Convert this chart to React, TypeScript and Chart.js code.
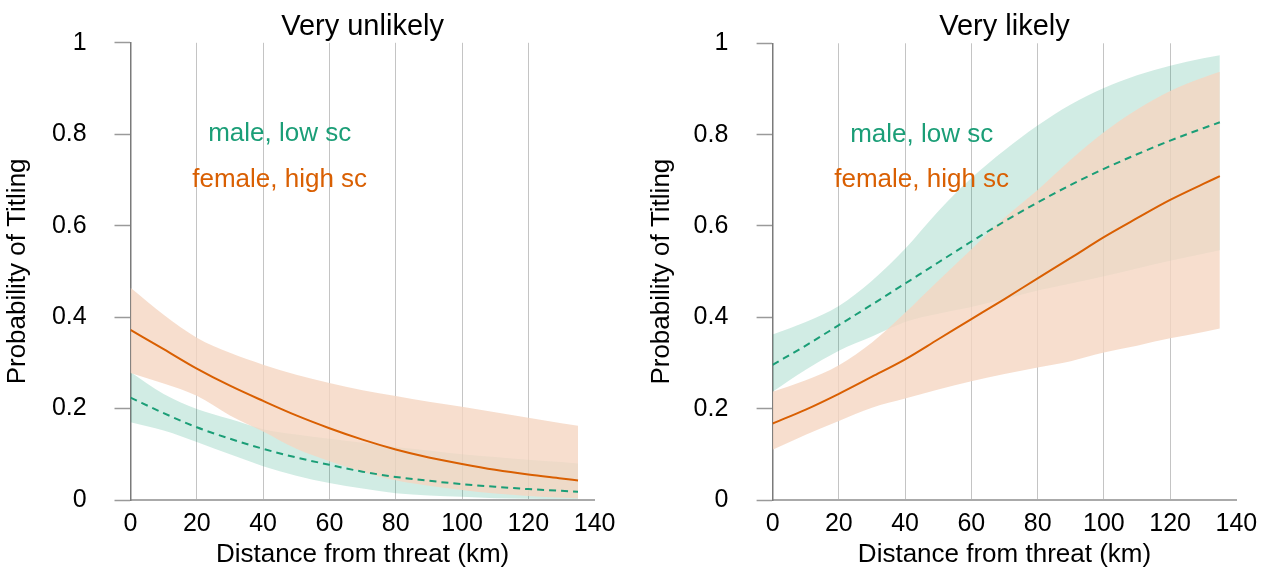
import React, { useEffect, useRef } from "react";
import { Chart, registerables } from "chart.js";

Chart.register(...registerables);

// ---------- data ----------
const distanceKm = [0, 10, 20, 30, 40, 50, 60, 70, 80, 90, 100, 110, 120, 130, 135];
const xTickValues = [0, 20, 40, 60, 80, 100, 120, 140];
const yTickValues = [0, 0.2, 0.4, 0.6, 0.8, 1];
const panelTitles = ["Very unlikely", "Very likely"];
const xAxisTitle = "Distance from threat (km)";
const yAxisTitle = "Probability of Titling";
const groupLabels = ["male, low sc", "female, high sc"];
const groupLabelX = [45, 45];
const groupLabelY = [0.8, 0.7];

// Very unlikely
const maleMeanUnlikely = [0.224, 0.19, 0.159, 0.134, 0.112, 0.093, 0.077, 0.062, 0.0505, 0.042, 0.0347, 0.029, 0.0238, 0.02, 0.018];
const maleUpperUnlikely = [0.28, 0.232, 0.199, 0.177, 0.155, 0.143, 0.134, 0.125, 0.116, 0.108, 0.1, 0.094, 0.088, 0.083, 0.08];
const maleLowerUnlikely = [0.17, 0.152, 0.127, 0.1, 0.074, 0.053, 0.037, 0.025, 0.015, 0.01, 0.007, 0.004, 0.003, 0.002, 0.002];
const femaleMeanUnlikely = [0.372, 0.33, 0.2875, 0.25, 0.2167, 0.185, 0.157, 0.132, 0.1105, 0.093, 0.0787, 0.066, 0.0556, 0.047, 0.0426];
const femaleUpperUnlikely = [0.464, 0.405, 0.355, 0.322, 0.296, 0.274, 0.256, 0.24, 0.2275, 0.215, 0.2037, 0.192, 0.18, 0.168, 0.1625];
const femaleLowerUnlikely = [0.278, 0.255, 0.228, 0.185, 0.15, 0.112, 0.085, 0.062, 0.043, 0.031, 0.022, 0.014, 0.009, 0.005, 0.004];

// Very likely
const maleMeanLikely = [0.296, 0.338, 0.383, 0.428, 0.474, 0.52, 0.566, 0.61, 0.6515, 0.69, 0.725, 0.757, 0.787, 0.814, 0.827];
const maleUpperLikely = [0.3626, 0.39, 0.425, 0.48, 0.55, 0.632, 0.705, 0.766, 0.82, 0.866, 0.902, 0.93, 0.951, 0.967, 0.974];
const maleLowerLikely = [0.237, 0.285, 0.327, 0.358, 0.39, 0.408, 0.4225, 0.44, 0.4587, 0.474, 0.49, 0.507, 0.5237, 0.539, 0.547];
const femaleMeanLikely = [0.1676, 0.198, 0.2326, 0.27, 0.308, 0.352, 0.396, 0.44, 0.4854, 0.53, 0.5757, 0.617, 0.657, 0.692, 0.709];
const femaleUpperLikely = [0.237, 0.262, 0.295, 0.345, 0.41, 0.48, 0.549, 0.618, 0.679, 0.745, 0.805, 0.855, 0.8956, 0.925, 0.9375];
const femaleLowerLikely = [0.11, 0.143, 0.173, 0.202, 0.222, 0.242, 0.26, 0.276, 0.29, 0.304, 0.323, 0.338, 0.354, 0.368, 0.3755];

// ---------- style ----------
const FONT = "'Liberation Sans', Arial, Helvetica, sans-serif";
const GREEN = "#1b9e77";
const ORANGE = "#d95f02";
const GREEN_FILL = "rgba(27,158,119,0.2)";
const ORANGE_FILL = "rgba(245,214,194,0.8)";
const groupColors = [GREEN, ORANGE];

type PanelProps = {
  title: string;
  maleMean: number[];
  maleUpper: number[];
  maleLower: number[];
  femaleMean: number[];
  femaleUpper: number[];
  femaleLower: number[];
  left: number;
  width: number;
  yAxisWidth: number;
  padRight: number;
  yTitlePad: number;
  yTickPad: number;
};

const pts = (ys: number[]) => distanceKm.map((x, i) => ({ x, y: ys[i] }));

function Panel(p: PanelProps) {
  const ref = useRef<HTMLCanvasElement | null>(null);

  useEffect(() => {
    if (!ref.current) return;
    const labelPlugin = {
      id: "groupLabels",
      afterDatasetsDraw(chart: any) {
        const { ctx, scales } = chart;
        ctx.save();
        ctx.font = `26px ${FONT}`;
        ctx.textAlign = "center";
        ctx.textBaseline = "middle";
        groupLabels.forEach((t, i) => {
          ctx.fillStyle = groupColors[i];
          ctx.fillText(t, scales.x.getPixelForValue(groupLabelX[i]), scales.y.getPixelForValue(groupLabelY[i]));
        });
        ctx.restore();
      },
    };

    const band = (data: number[], fill: any, color: string, order: number) => ({
      data: pts(data),
      borderWidth: 0,
      borderColor: "transparent",
      backgroundColor: color,
      pointRadius: 0,
      fill,
      order,
      cubicInterpolationMode: "monotone" as const,
    });

    const chart = new Chart(ref.current, {
      type: "line",
      data: {
        datasets: [
          {
            data: pts(p.maleMean),
            borderColor: GREEN,
            borderWidth: 2,
            borderDash: [7, 5],
            pointRadius: 0,
            fill: false,
            order: 0,
            cubicInterpolationMode: "monotone",
          },
          {
            data: pts(p.femaleMean),
            borderColor: ORANGE,
            borderWidth: 2,
            pointRadius: 0,
            fill: false,
            order: 0,
            cubicInterpolationMode: "monotone",
          },
          band(p.femaleUpper, "+1", ORANGE_FILL, 1),
          band(p.femaleLower, false, "transparent", 1),
          band(p.maleUpper, "+1", GREEN_FILL, 2),
          band(p.maleLower, false, "transparent", 2),
        ] as any,
      },
      options: {
        animation: false,
        responsive: false,
        devicePixelRatio: 1,
        layout: { padding: { left: 0, right: p.padRight, top: 0, bottom: 0 } },
        plugins: {
          legend: { display: false },
          tooltip: { enabled: false },
          title: {
            display: true,
            text: p.title,
            fullSize: false,
            color: "#000",
            font: { family: FONT, size: 29, weight: "normal", lineHeight: 1.1 },
            padding: { top: 6.6, bottom: 0 },
          },
        },
        scales: {
          x: {
            type: "linear",
            min: 0,
            max: 140,
            z: 1,
            afterBuildTicks: (s: any) => {
              s.ticks = xTickValues.map((v) => ({ value: v }));
            },
            afterFit: (s: any) => {
              s.height = 72;
            },
            ticks: {
              color: "#000",
              font: { family: FONT, size: 25 },
              padding: 9,
              maxRotation: 0,
              autoSkip: false,
              callback: (v: any) => String(v),
            },
            grid: {
              drawTicks: false,
              color: (c: any) => (c.tick && (c.tick.value === 0 || c.tick.value === 140) ? "rgba(0,0,0,0)" : "#c4c4c4"),
              lineWidth: 1,
            },
            border: { color: "#aaaaaa", width: 2 },
            title: {
              display: true,
              text: xAxisTitle,
              color: "#000",
              font: { family: FONT, size: 26 },
              padding: { top: 0, bottom: 1.4 },
            },
          },
          y: {
            type: "linear",
            min: 0,
            max: 1,
            afterBuildTicks: (s: any) => {
              s.ticks = yTickValues.map((v) => ({ value: v }));
            },
            afterFit: (s: any) => {
              s.width = p.yAxisWidth;
            },
            ticks: {
              color: "#000",
              font: { family: FONT, size: 25 },
              padding: p.yTickPad,
              autoSkip: false,
              callback: (v: any) => String(v),
            },
            grid: {
              drawOnChartArea: false,
              drawTicks: true,
              tickLength: 16,
              tickColor: "#9a9a9a",
              tickWidth: 1.5,
            },
            border: { color: "#7a7a7a", width: 1.5 },
            title: {
              display: true,
              text: yAxisTitle,
              color: "#000",
              font: { family: FONT, size: 26 },
              padding: { top: p.yTitlePad, bottom: 0 },
            },
          },
        },
      },
      plugins: [labelPlugin],
    } as any);

    return () => chart.destroy();
  }, []);

  return (
    <canvas
      ref={ref}
      width={p.width}
      height={572}
      style={{ position: "absolute", left: p.left, top: 0, width: p.width, height: 572 }}
    />
  );
}

export default function App() {
  return (
    <div style={{ position: "fixed", left: 0, top: 0, width: 1272, height: 572, background: "#fff", overflow: "hidden" }}>
      <Panel
        title={panelTitles[0]}
        maleMean={maleMeanUnlikely}
        maleUpper={maleUpperUnlikely}
        maleLower={maleLowerUnlikely}
        femaleMean={femaleMeanUnlikely}
        femaleUpper={femaleUpperUnlikely}
        femaleLower={femaleLowerUnlikely}
        left={0}
        width={640}
        yAxisWidth={130.5}
        padRight={45.4}
        yTitlePad={2}
        yTickPad={27.8}
      />
      <Panel
        title={panelTitles[1]}
        maleMean={maleMeanLikely}
        maleUpper={maleUpperLikely}
        maleLower={maleLowerLikely}
        femaleMean={femaleMeanLikely}
        femaleUpper={femaleUpperLikely}
        femaleLower={femaleLowerLikely}
        left={640}
        width={632}
        yAxisWidth={132.6}
        padRight={35.6}
        yTitlePad={6.4}
        yTickPad={28.3}
      />
    </div>
  );
}
